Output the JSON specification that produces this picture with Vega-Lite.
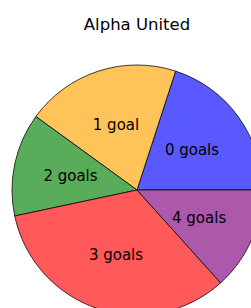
{
  "$schema": "https://vega.github.io/schema/vega-lite/v6.json",
  "autosize": {"type": "none"},
  "width": 250,
  "height": 250,
  "padding": {"left": 12, "top": 65, "right": 0, "bottom": 0},
  "background": "white",
  "config": {"view": {"stroke": null}, "font": "DejaVu Sans"},
  "title": {
    "text": "Alpha United",
    "font": "DejaVu Sans",
    "fontSize": 16.5,
    "fontWeight": "normal",
    "color": "#000000",
    "anchor": "middle",
    "baseline": "alphabetic",
    "offset": 17
  },
  "data": {
    "values": [
      {"goals": "0 goals", "count": 3},
      {"goals": "1 goal", "count": 3},
      {"goals": "2 goals", "count": 2},
      {"goals": "3 goals", "count": 5},
      {"goals": "4 goals", "count": 2}
    ]
  },
  "encoding": {
    "theta": {
      "field": "count",
      "type": "quantitative",
      "stack": true,
      "scale": {"range": [1.5707963, -4.712389]}
    },
    "order": {"field": "goals", "type": "ordinal"}
  },
  "layer": [
    {
      "mark": {"type": "arc", "stroke": "#000000", "strokeWidth": 1, "strokeOpacity": 0.75},
      "encoding": {
        "color": {
          "field": "goals",
          "type": "nominal",
          "legend": null,
          "scale": {
            "domain": ["0 goals", "1 goal", "2 goals", "3 goals", "4 goals"],
            "range": ["#5959ff", "#ffc459", "#59ac59", "#ff5959", "#ac59ac"]
          }
        }
      }
    },
    {
      "mark": {"type": "text", "radius": 68, "fontSize": 15, "font": "DejaVu Sans", "color": "#000000"},
      "encoding": {
        "text": {"field": "goals", "type": "nominal"}
      }
    }
  ]
}
